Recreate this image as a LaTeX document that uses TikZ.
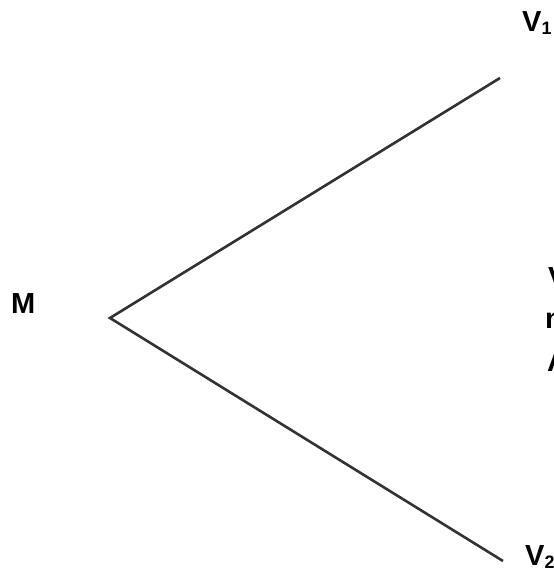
\documentclass[tikz,border=0pt]{standalone}
\usepackage{fontspec}
\setmainfont{Liberation Sans}
\begin{document}
\begin{tikzpicture}[x=1pt,y=-1pt,
  lbl/.style={anchor=base west,inner sep=0pt,font=\fontsize{29}{30}\selectfont\bfseries},
  edge/.style={draw=black!80,line width=2.6pt}]
\useasboundingbox (0,0) rectangle (553,569);
\clip (0,0) rectangle (553,569);
\fill[white] (0,0) rectangle (553,569);
\coordinate (m) at (110,318);
\coordinate (a) at (500,78);
\coordinate (b) at (503,561);
\draw[edge] (a) -- (m) -- (b);
\node[lbl] (M) at (11,313) {M};
\node[lbl] (V1) at (522,32) {V\raisebox{-3pt}{\fontsize{18}{18}\selectfont 1}};
\node[lbl] (V2) at (525,565) {V\raisebox{-3pt}{\fontsize{18}{18}\selectfont 2}};
\node[lbl] (f1) at (548,287) {V};
\node[lbl] (f2) at (545,328) {n};
\node[lbl] (f3) at (547,371) {A};
\end{tikzpicture}
\end{document}
